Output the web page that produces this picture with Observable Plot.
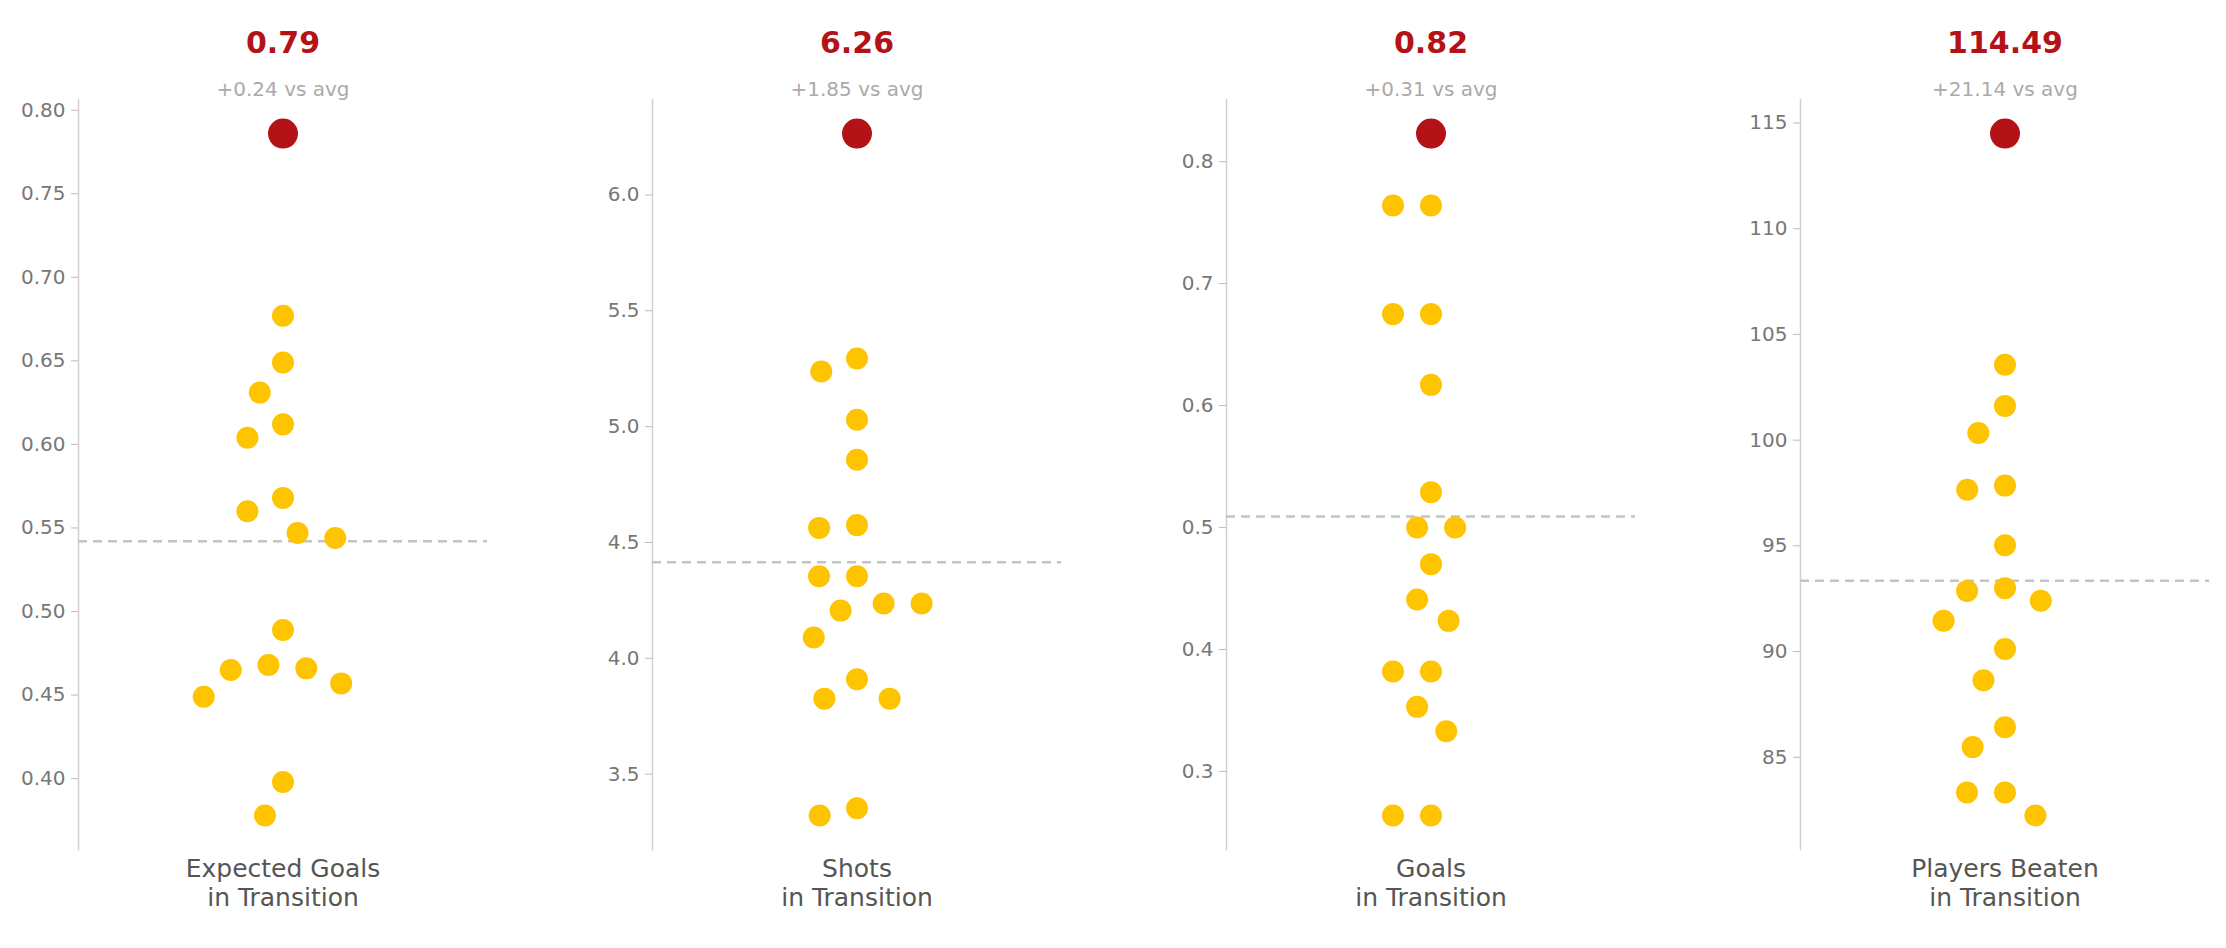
<!DOCTYPE html>
<html><head><meta charset="utf-8">
<script src="https://cdn.jsdelivr.net/npm/d3@7"></script>
<script src="https://cdn.jsdelivr.net/npm/@observablehq/plot@0.6"></script>
<style>body{margin:0;background:#fff;font-family:"DejaVu Sans",sans-serif;overflow:hidden}#c{display:flex;width:2226px}#c svg{flex-shrink:0}</style>
</head><body><div id="c"></div>
<script>
const labels = ["Expected Goals\nin Transition","Shots\nin Transition","Goals\nin Transition","Players Beaten\nin Transition"];
const titles = ["0.79","6.26","0.82","114.49"];
const subtitles = ["+0.24 vs avg","+1.85 vs avg","+0.31 vs avg","+21.14 vs avg"];
const highlight = [0.786, 6.265, 0.823, 114.5];
const averages = [0.542, 4.415, 0.509, 93.35];
const xgValues = [0.677,0.649,0.631,0.612,0.604,0.568,0.560,0.547,0.544,0.489,0.468,0.466,0.465,0.457,0.449,0.398,0.378];
const shotValues = [5.294,5.238,5.03,4.857,4.575,4.563,4.354,4.354,4.237,4.237,4.206,4.09,3.91,3.826,3.826,3.353,3.322];
const goalValues = [0.764,0.764,0.675,0.675,0.617,0.529,0.5,0.5,0.47,0.441,0.4235,0.382,0.382,0.353,0.333,0.264,0.264];
const beatenValues = [103.57,101.62,100.34,97.85,97.65,95.03,93.0,92.87,92.4,91.46,90.12,88.64,86.42,85.48,83.33,83.33,82.25];
const tickSets = [d3.range(0.40,0.801,0.05), d3.range(3.5,6.01,0.5), d3.range(0.3,0.801,0.1), d3.range(85,115.1,5)];
const formats = [".2f",".1f",".1f","d"];
const series = [xgValues, shotValues, goalValues, beatenValues];

const c = document.getElementById("c");
series.forEach((vals, i) => {
  const all = vals.concat([highlight[i]]);
  const [lo, hi] = d3.extent(all);
  const pad = (hi - lo) * 0.05;
  const pts = vals.map(v => ({v, hl:false})).concat([{v:highlight[i], hl:true}]);
  const w = i < 3 ? 574 : 504;
  const svg = Plot.plot({
    width: w, height: 948,
    marginLeft: 78, marginRight: w - 78 - 409, marginTop: 99, marginBottom: 99,
    style: {fontFamily: "DejaVu Sans", background: "#fff", overflow: "visible"},
    y: {domain: [lo - pad, hi + pad]},
    marks: [
      Plot.frame({anchor: "left", stroke: "#d0d0d0", strokeWidth: 1.5}),
      Plot.axisY({ticks: tickSets[i], tickFormat: d3.format(formats[i]), fontSize: 20, fill: "#777", stroke: "#bbb", tickSize: 7, tickPadding: 6, label: null}),
      Plot.ruleY([averages[i]], {stroke: "#c4c4c4", strokeWidth: 2.5, strokeDasharray: "9,6"}),
      Plot.dot(pts.filter(d => !d.hl), Plot.dodgeX({anchor: "middle", padding: 16, y: "v", r: 11, fill: "#ffc400"})),
      Plot.dot(pts.filter(d => d.hl), {frameAnchor: "middle", y: "v", r: 15, fill: "#b31217"}),
      Plot.text([titles[i]], {frameAnchor: "top", dy: -68, fontSize: 30, fontWeight: "bold", fill: "#b31217"}),
      Plot.text([subtitles[i]], {frameAnchor: "top", dy: -18, fontSize: 20, fill: "#aaa"}),
      Plot.text([labels[i]], {frameAnchor: "bottom", dy: 56, fontSize: 25, fill: "#555", lineHeight: 1.15})
    ]
  });
  c.appendChild(svg);
});
</script></body></html>
